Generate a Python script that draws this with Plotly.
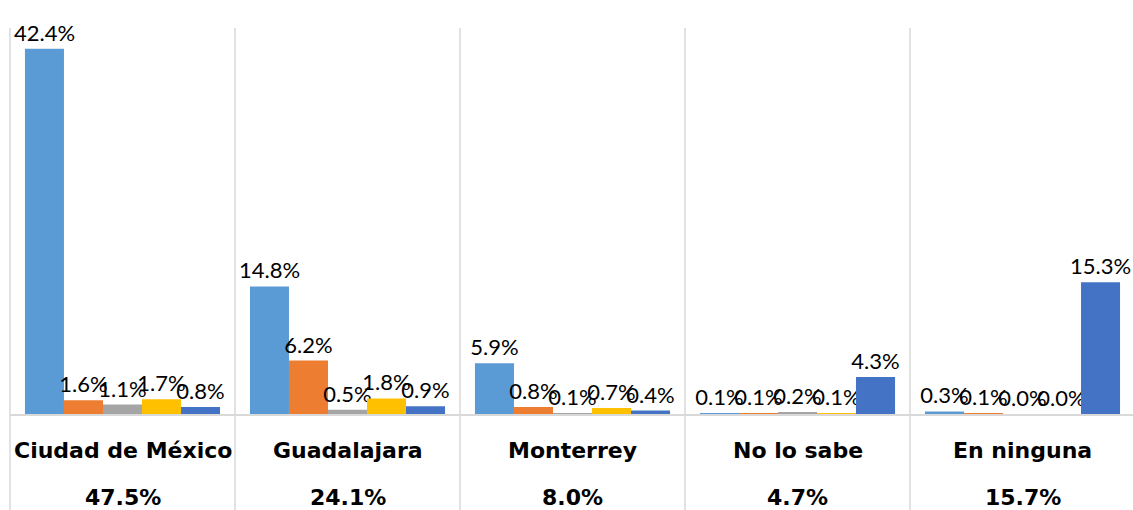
import plotly.graph_objects as go

categories = ["Ciudad de México", "Guadalajara", "Monterrey", "No lo sabe", "En ninguna"]
totals = ["47.5%", "24.1%", "8.0%", "4.7%", "15.7%"]
series_names = ["Serie 1", "Serie 2", "Serie 3", "Serie 4", "Serie 5"]
series_values = [
    [42.4, 14.8, 5.9, 0.1, 0.3],
    [1.6, 6.2, 0.8, 0.1, 0.1],
    [1.1, 0.5, 0.1, 0.2, 0.0],
    [1.7, 1.8, 0.7, 0.1, 0.0],
    [0.8, 0.9, 0.4, 4.3, 15.3],
]
colors = ["#5B9BD5", "#ED7D31", "#A5A5A5", "#FFC000", "#4472C4"]

LABEL_FONT = "Lato"
CAT_FONT = "DejaVu Sans"

fig = go.Figure()
for name, vals, col in zip(series_names, series_values, colors):
    fig.add_trace(go.Bar(
        x=categories, y=vals, name=name,
        marker=dict(color=col, line=dict(width=0)),
        text=[f"{v:.1f}%" for v in vals],
        textposition="outside",
        constraintext="none",
        cliponaxis=False,
        textfont=dict(family=LABEL_FONT, size=22, color="#000000"),
    ))

n = len(categories)
shapes = []
for i in range(n + 1):
    shapes.append(dict(type="line", xref="paper", yref="paper",
                       x0=i / n, x1=i / n, y0=-0.25, y1=1,
                       line=dict(color="#D9D9D9", width=1.5), layer="below"))

annotations = []
for c, t in zip(categories, totals):
    annotations.append(dict(x=c, y=0, xref="x", yref="y", text=f"<b>{c}</b>",
                            showarrow=False, yshift=-36, yanchor="middle",
                            font=dict(family=CAT_FONT, size=22, color="#000000")))
    annotations.append(dict(x=c, y=0, xref="x", yref="y", text=f"<b>{t}</b>",
                            showarrow=False, yshift=-83, yanchor="middle",
                            font=dict(family=CAT_FONT, size=22, color="#000000")))

fig.update_layout(
    width=1135, height=510,
    margin=dict(l=10, r=0, t=28, b=96, autoexpand=False),
    plot_bgcolor="white", paper_bgcolor="white",
    barmode="group", bargap=0.133, bargroupgap=0,
    showlegend=False,
    shapes=shapes, annotations=annotations,
    xaxis=dict(showticklabels=False, showline=True, linecolor="#D9D9D9", linewidth=1.5,
               showgrid=False, zeroline=False, ticks=""),
    yaxis=dict(range=[0, 44.8], visible=False, showgrid=False, zeroline=False),
)

fig.write_html("out.html", config={"displayModeBar": False},
               post_script="document.body.style.margin='0';document.body.style.overflow='hidden';")
